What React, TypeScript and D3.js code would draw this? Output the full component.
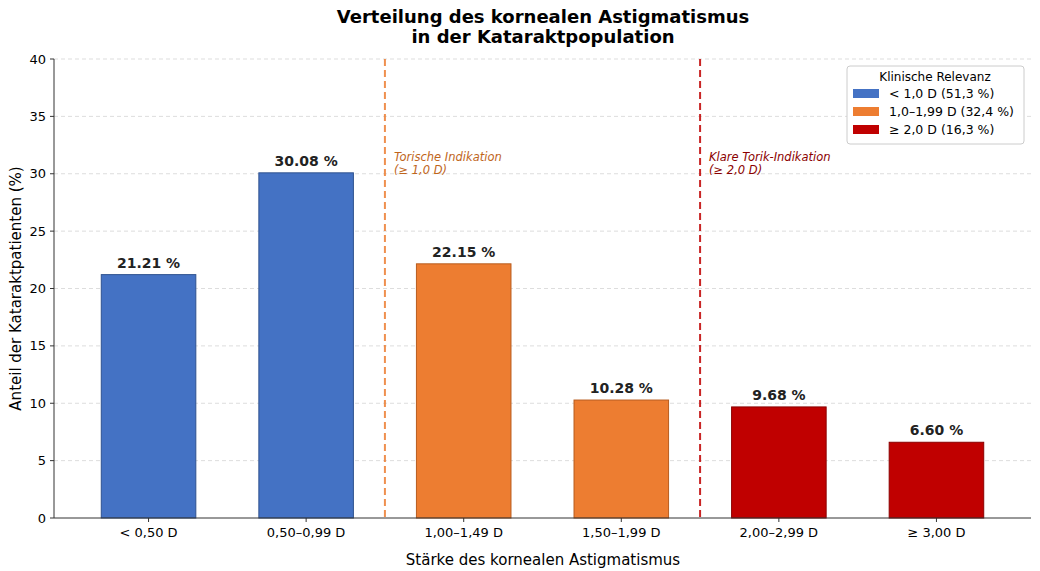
import React from "react";
import * as d3 from "d3";

const categories = ["< 0,50 D", "0,50–0,99 D", "1,00–1,49 D", "1,50–1,99 D", "2,00–2,99 D", "≥ 3,00 D"];
const values = [21.21, 30.08, 22.15, 10.28, 9.68, 6.6];
const groups = [0, 0, 1, 1, 2, 2];
const groupColors = ["#4472c4", "#ed7d31", "#c00000"];
const groupEdges = ["#2f528f", "#b85c1e", "#8b0000"];
const legendLabels = ["< 1,0 D  (51,3 %)", "1,0–1,99 D  (32,4 %)", "≥ 2,0 D  (16,3 %)"];
const yTicks = [0, 5, 10, 15, 20, 25, 30, 35, 40];

export default function App() {
  const W = 1040, H = 571;
  const left = 54, right = 1031, top = 59, bottom = 518;
  const x = d3.scaleLinear().domain([-0.6, 5.6]).range([left, right]);
  const y = d3.scaleLinear().domain([0, 40]).range([bottom, top]);
  const bw = x(0.6) - x(0);
  const font = "DejaVu Sans, sans-serif";
  return (
    <svg width={W} height={H} style={{ position: "absolute", left: 0, top: 0 }} fontFamily={font}>
      <rect width={W} height={H} fill="white" />
      <text x={543} y={23} textAnchor="middle" fontSize={18} fontWeight="bold">Verteilung des kornealen Astigmatismus</text>
      <text x={543} y={43} textAnchor="middle" fontSize={18} fontWeight="bold">in der Kataraktpopulation</text>
      {yTicks.map(t => (
        <g key={t}>
          {t > 0 && <line x1={left} x2={right} y1={y(t)} y2={y(t)} stroke="#ddd" strokeDasharray="4,3" />}
          <line x1={left - 4} x2={left} y1={y(t)} y2={y(t)} stroke="#333" />
          <text x={left - 8} y={y(t) + 4.5} textAnchor="end" fontSize={13}>{t}</text>
        </g>
      ))}
      {values.map((v, i) => (
        <g key={i}>
          <rect x={x(i) - bw / 2} y={y(v)} width={bw} height={bottom - y(v)} fill={groupColors[groups[i]]} stroke={groupEdges[groups[i]]} strokeWidth={1} />
          <text x={x(i)} y={y(v) - 7} textAnchor="middle" fontSize={14} fontWeight="bold" fill="#222">{v.toFixed(2)} %</text>
          <line x1={x(i)} x2={x(i)} y1={bottom} y2={bottom + 4} stroke="#333" />
          <text x={x(i)} y={bottom + 19} textAnchor="middle" fontSize={13}>{categories[i]}</text>
        </g>
      ))}
      <line x1={x(1.5)} x2={x(1.5)} y1={top} y2={bottom} stroke="#ed7d31" strokeWidth={2} strokeDasharray="7,4" opacity={0.85} />
      <line x1={x(3.5)} x2={x(3.5)} y1={top} y2={bottom} stroke="#c00000" strokeWidth={2} strokeDasharray="7,4" opacity={0.85} />
      <text x={x(1.5) + 9} y={161} fontSize={11.5} fontStyle="italic" fill="#c0651b">Torische Indikation</text>
      <text x={x(1.5) + 9} y={174} fontSize={11.5} fontStyle="italic" fill="#c0651b">(≥ 1,0 D)</text>
      <text x={x(3.5) + 9} y={161} fontSize={11.5} fontStyle="italic" fill="#8b0000">Klare Torik-Indikation</text>
      <text x={x(3.5) + 9} y={174} fontSize={11.5} fontStyle="italic" fill="#8b0000">(≥ 2,0 D)</text>
      <line x1={left} x2={left} y1={top} y2={bottom} stroke="#333" />
      <line x1={left} x2={right} y1={bottom} y2={bottom} stroke="#333" />
      <text x={543} y={565} textAnchor="middle" fontSize={15}>Stärke des kornealen Astigmatismus</text>
      <text transform={`translate(21,${(top + bottom) / 2}) rotate(-90)`} textAnchor="middle" fontSize={15}>Anteil der Kataraktpatienten (%)</text>
      <g>
        <rect x={847} y={66} width={177} height={78} rx={3} fill="white" stroke="#ccc" />
        <text x={935} y={81} textAnchor="middle" fontSize={12}>Klinische Relevanz</text>
        {legendLabels.map((l, i) => (
          <g key={i}>
            <rect x={853} y={89 + i * 18} width={26} height={9} fill={groupColors[i]} />
            <text x={889} y={98 + i * 18} fontSize={12.5}>{l}</text>
          </g>
        ))}
      </g>
    </svg>
  );
}
